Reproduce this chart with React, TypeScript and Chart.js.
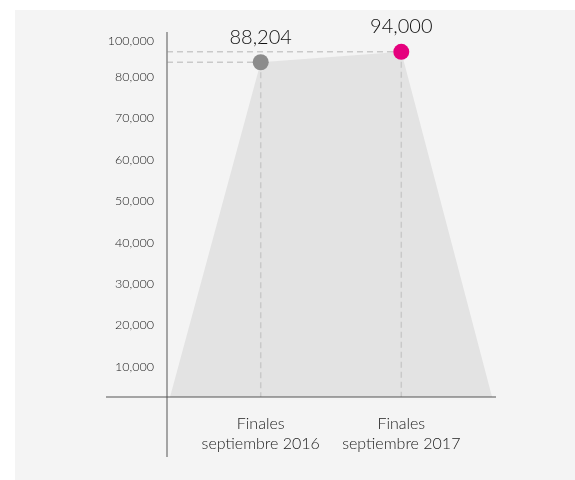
import React, { useEffect, useRef } from 'react';
import { Chart, LinearScale, registerables } from 'chart.js';

// ---- data ----
const CATEGORIES: (string | string[])[] = [
  '', '', ['Finales', 'septiembre 2016'], '', '', ['Finales', 'septiembre 2017'], '', '',
];
const AREA_VALUES: (number | null)[] = [0, null, 88204, null, null, 94000, null, 0];
const POINT_VALUES: (number | null)[] = [null, null, 88204, null, null, 94000, null, null];
const POINT_COLORS: string[] = ['#8c8c8c', '#8c8c8c', '#8c8c8c', '#e5007d', '#e5007d', '#e5007d', '#e5007d', '#e5007d'];
const Y_TICKS: number[] = [10000, 20000, 30000, 40000, 50000, 60000, 70000, 80000, 100000];

// ---- broken (compressed above 80,000) linear scale ----
const BREAK = 80000;
const SQUEEZE = 0.435;
const toV = (v: number) => (v <= BREAK ? v : BREAK + (v - BREAK) * SQUEEZE);
const fromV = (v: number) => (v <= BREAK ? v : BREAK + (v - BREAK) / SQUEEZE);

class BrokenLinearScale extends LinearScale {
  static id = 'brokenLinear';
  configure() {
    super.configure();
    const s: any = this;
    s._startValue = toV(s.min);
    s._endValue = toV(s.max);
    s._valueRange = s._endValue - s._startValue;
  }
  getPixelForValue(value: any) {
    if (value === null || value === undefined || Number.isNaN(value)) return NaN;
    const s: any = this;
    return this.getPixelForDecimal((toV(value) - s._startValue) / s._valueRange);
  }
  getValueForPixel(pixel: number) {
    const s: any = this;
    return fromV(s._startValue + this.getDecimalForPixel(pixel) * s._valueRange);
  }
}

Chart.register(...registerables, BrokenLinearScale);

const FONT = 'Lato, "Open Sans", sans-serif';
const fmt = (v: number) => v.toLocaleString('en-US');

const decorPlugin = {
  id: 'decor',
  afterDatasetDraw(chart: any, args: any) {
    if (args.index !== 1) return;
    const { ctx, chartArea } = chart;
    const meta = chart.getDatasetMeta(0);
    ctx.save();
    ctx.strokeStyle = '#c9c9c9';
    ctx.lineWidth = 1.5;
    ctx.setLineDash([6, 4]);
    meta.data.forEach((el: any, i: number) => {
      if (POINT_VALUES[i] == null || el.skip) return;
      ctx.beginPath();
      ctx.moveTo(chartArea.left, el.y);
      ctx.lineTo(el.x, el.y);
      ctx.moveTo(el.x, el.y);
      ctx.lineTo(el.x, chartArea.bottom);
      ctx.stroke();
    });
    ctx.restore();
  },
  afterDatasetsDraw(chart: any) {
    const { ctx, chartArea } = chart;
    ctx.save();
    // axes
    ctx.strokeStyle = '#8a8a8a';
    ctx.lineWidth = 1.5;
    ctx.beginPath();
    ctx.moveTo(chartArea.left, chartArea.top);
    ctx.lineTo(chartArea.left, chartArea.bottom + 60);
    ctx.stroke();
    ctx.strokeStyle = '#555555';
    ctx.lineWidth = 1.2;
    ctx.beginPath();
    ctx.moveTo(chartArea.left - 61, chartArea.bottom);
    ctx.lineTo(chartArea.right + 1, chartArea.bottom);
    ctx.stroke();
    // value labels
    const meta = chart.getDatasetMeta(0);
    ctx.fillStyle = '#111111';
    ctx.font = `300 20px ${FONT}`;
    ctx.textAlign = 'center';
    ctx.textBaseline = 'middle';
    meta.data.forEach((el: any, i: number) => {
      const v = POINT_VALUES[i];
      if (v == null || el.skip) return;
      ctx.fillText(fmt(v), el.x, el.y - 25);
    });
    ctx.restore();
  },
};

export default function App() {
  const canvasRef = useRef<HTMLCanvasElement | null>(null);

  useEffect(() => {
    if (!canvasRef.current) return;
    const chart = new Chart(canvasRef.current, {
      type: 'line',
      data: {
        labels: CATEGORIES,
        datasets: [
          {
            data: POINT_VALUES,
            showLine: false,
            pointRadius: 8,
            pointHoverRadius: 8,
            pointBorderWidth: 0,
            pointBackgroundColor: POINT_COLORS,
            pointBorderColor: POINT_COLORS,
            order: 0,
          },
          {
            data: AREA_VALUES,
            spanGaps: true,
            fill: 'origin',
            backgroundColor: '#e3e3e3',
            borderWidth: 0,
            borderColor: 'rgba(0,0,0,0)',
            pointRadius: 0,
            tension: 0,
            order: 1,
          },
        ],
      } as any,
      options: {
        animation: false,
        responsive: true,
        maintainAspectRatio: false,
        layout: { padding: { left: 0, right: 80, top: 32, bottom: 0 } },
        plugins: { legend: { display: false }, tooltip: { enabled: false } },
        scales: {
          x: {
            type: 'category',
            offset: false,
            grid: { display: false, drawTicks: false },
            border: { display: false },
            ticks: {
              autoSkip: false,
              maxRotation: 0,
              padding: 17,
              color: '#1a1a1a',
              font: { family: FONT, size: 16, weight: '300', lineHeight: 1.25 },
            },
            afterFit: (scale: any) => { scale.height = 83; },
          },
          y: {
            type: 'brokenLinear',
            min: 2700,
            max: 105000,
            bounds: 'data',
            grid: { display: false, drawTicks: false },
            border: { display: false },
            afterBuildTicks: (scale: any) => { scale.ticks = Y_TICKS.map((v) => ({ value: v })); },
            afterFit: (scale: any) => { scale.width = 167; },
            ticks: {
              autoSkip: false,
              padding: 13,
              color: '#1a1a1a',
              font: { family: FONT, size: 12.5, weight: '300' },
              callback: (v: any) => fmt(Number(v)),
            },
          } as any,
        },
      } as any,
      plugins: [decorPlugin],
    });
    return () => chart.destroy();
  }, []);

  return (
    <div style={{ position: 'fixed', left: 0, top: 0, width: 575, height: 480, background: '#ffffff' }}>
      <div style={{ position: 'absolute', left: 15, top: 10, right: 0, bottom: 0, background: '#f4f4f4' }} />
      <div style={{ position: 'absolute', left: 0, top: 0, width: 575, height: 480 }}>
        <canvas ref={canvasRef} />
      </div>
    </div>
  );
}
